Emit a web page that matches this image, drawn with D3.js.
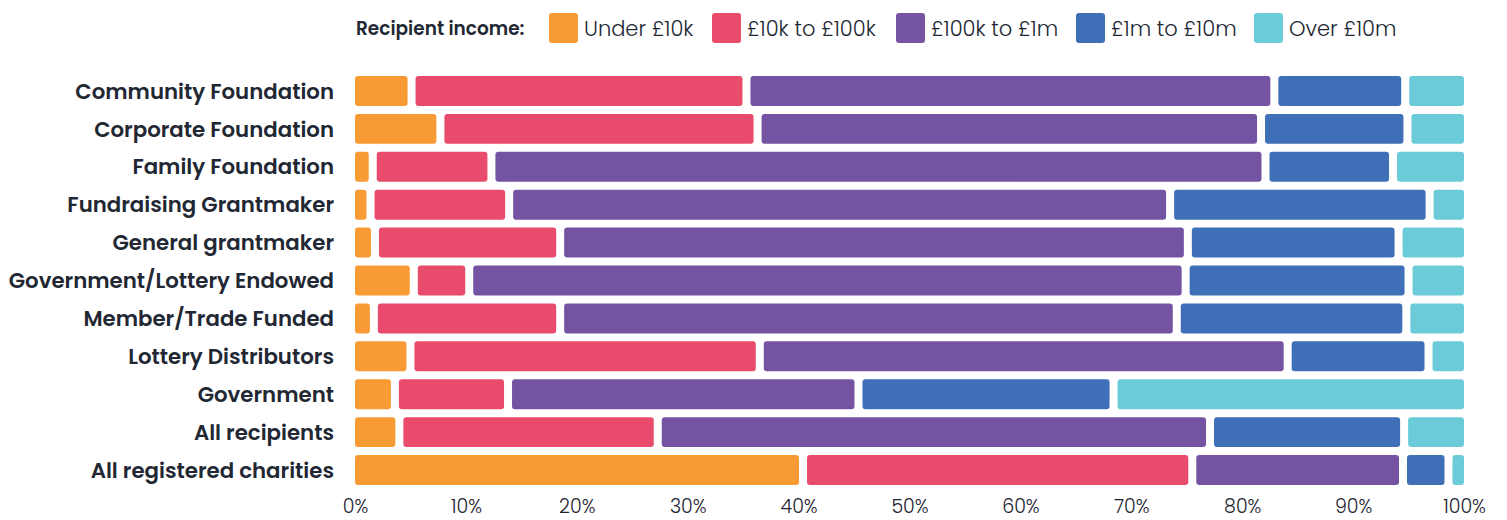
<!DOCTYPE html>
<html><head><meta charset="utf-8">
<script src="https://cdn.jsdelivr.net/npm/d3@7"></script>
<style>body{margin:0;background:#fff;} svg{display:block;}</style>
</head><body>
<svg id="chart" width="1507" height="520"></svg>
<script>
const categories = ["Community Foundation","Corporate Foundation","Family Foundation","Fundraising Grantmaker","General grantmaker","Government/Lottery Endowed","Member/Trade Funded","Lottery Distributors","Government","All recipients","All registered charities"];
const seriesNames = ["Under £10k","£10k to £100k","£100k to £1m","£1m to £10m","Over £10m"];
const under10k   = [5.1, 7.7, 1.6, 1.4, 1.8, 5.3, 1.7, 5.0, 3.6, 4.0, 40.4];
const k10to100k  = [30.2, 28.6, 10.7, 12.5, 16.7, 5.0, 16.8, 31.5, 10.2, 23.3, 35.1];
const k100to1m   = [47.6, 45.4, 69.8, 59.6, 56.6, 64.6, 55.6, 47.6, 31.6, 49.8, 19.0];
const m1to10m    = [11.8, 13.2, 11.5, 23.4, 19.0, 20.1, 20.7, 12.7, 23.0, 17.5, 4.1];
const over10m    = [5.3, 5.1, 6.4, 3.1, 5.9, 5.0, 5.2, 3.2, 31.6, 5.4, 1.4];
const tickValues = [0,10,20,30,40,50,60,70,80,90,100];
const colors = ["#F99B35","#E84B6B","#7454A2","#3F6FB7","#6BCBD8"];

const series = [under10k, k10to100k, k100to1m, m1to10m, over10m];
const rows = categories.map((c,i)=>{
  const o={cat:c}; seriesNames.forEach((s,j)=>o[s]=series[j][i]); return o;
});
const stack = d3.stack().keys(seriesNames)(rows);

const svg = d3.select("#chart");
const font = "Poppins, Inter, 'Noto Sans', sans-serif";
const x = d3.scaleLinear().domain([0,100]).range([355,1464]);
const y = d3.scaleBand().domain(categories).range([72.2,488.8]).paddingInner(0.21).paddingOuter(0.1);
const gap = 8;
const last = seriesNames.length-1;

stack.forEach((layer,j)=>{
  svg.append("g").selectAll("rect").data(layer).join("rect")
    .attr("x", d=> x(d[0]) + (j>0?gap/2:0))
    .attr("y", d=> y(d.data.cat))
    .attr("width", d=> Math.max(0, x(d[1]) - x(d[0]) - (j>0?gap/2:0) - (j<last?gap/2:0)))
    .attr("height", y.bandwidth())
    .attr("rx",3).attr("ry",3)
    .attr("fill", colors[j]);
});

// category labels
svg.append("g").selectAll("text").data(categories).join("text")
  .attr("x",334).attr("y",d=>y(d)+y.bandwidth()/2)
  .attr("dy","0.36em").attr("text-anchor","end")
  .attr("font-family",font).attr("font-weight",600).attr("font-size",21.3)
  .attr("fill","#222833").text(d=>d);

// x axis
const xAxis = d3.axisBottom(x).tickValues(tickValues).tickFormat(d=>d+"%").tickSize(0);
const gx = svg.append("g").call(xAxis);
gx.select(".domain").remove();
gx.selectAll("text").attr("font-family",font).attr("font-size",19).attr("font-weight",300)
  .attr("fill","#1c2230").attr("y",513).attr("dy",0);

// legend
const lg = svg.append("g");
lg.append("text").attr("x",356).attr("y",28).attr("dy","0.36em")
  .attr("font-family",font).attr("font-weight",600).attr("font-size",18.5).attr("fill","#222833")
  .text("Recipient income:");
const legendX = [549,712,896,1076,1254];
seriesNames.forEach((s,j)=>{
  lg.append("rect").attr("x",legendX[j]).attr("y",13).attr("width",29).attr("height",30)
    .attr("rx",3).attr("fill",colors[j]);
  lg.append("text").attr("x",legendX[j]+35).attr("y",28).attr("dy","0.36em")
    .attr("font-family",font).attr("font-weight",300).attr("font-size",21).attr("fill","#222833")
    .text(s);
});
</script>
</body></html>
